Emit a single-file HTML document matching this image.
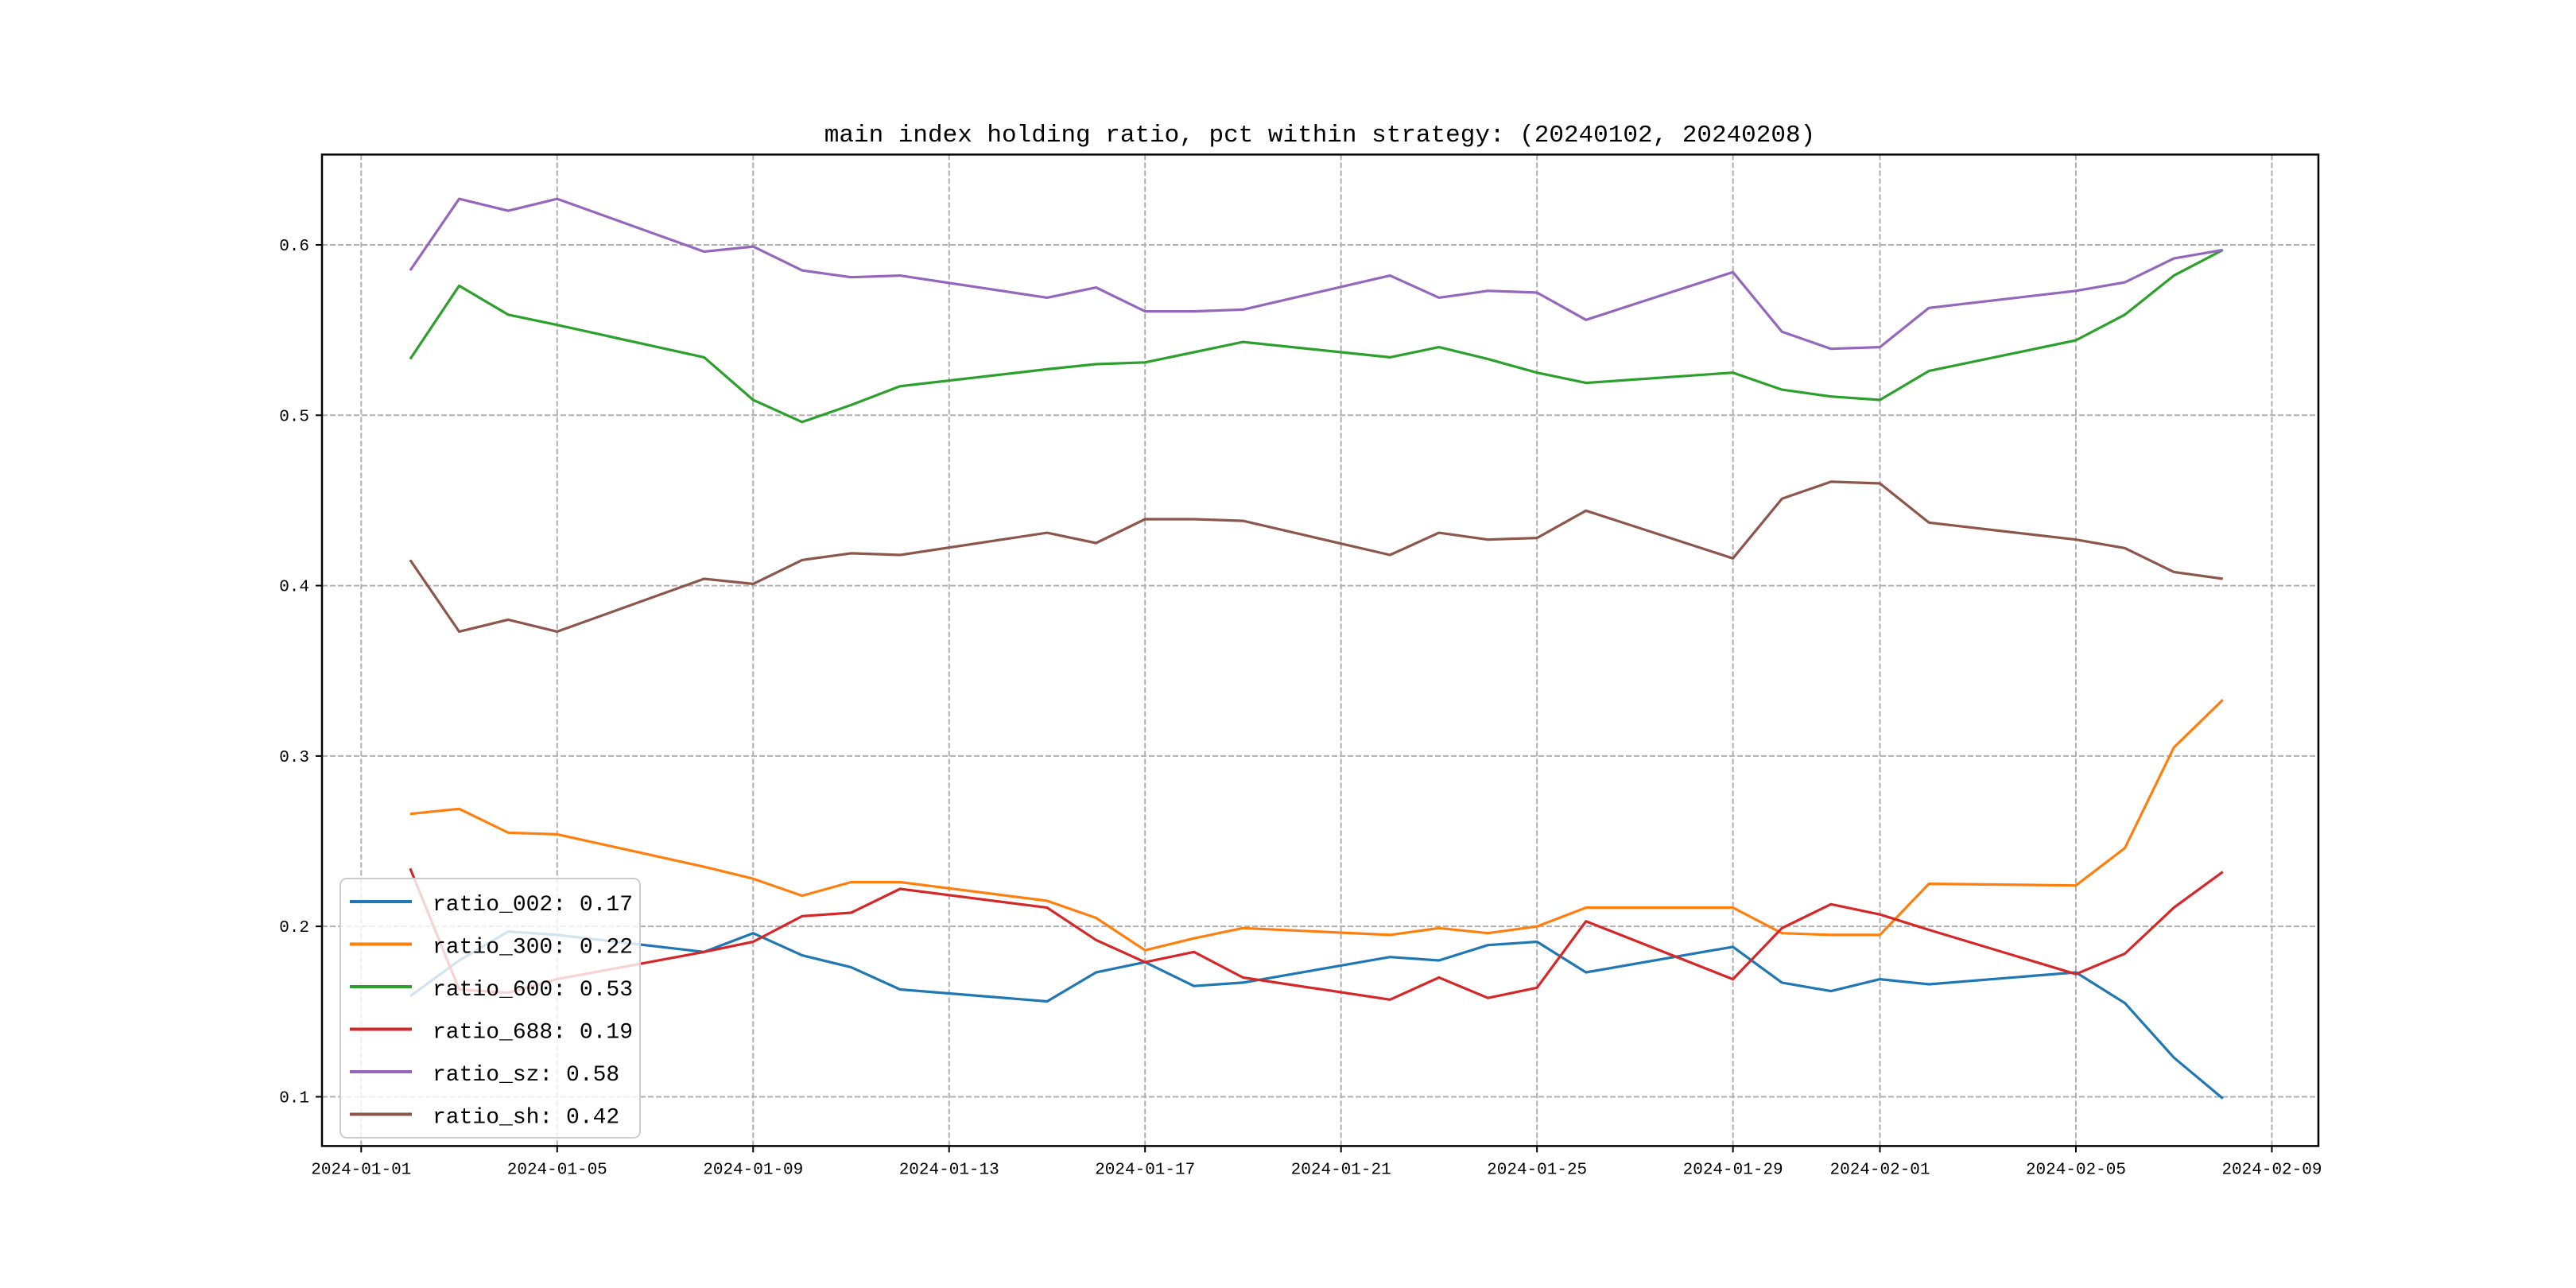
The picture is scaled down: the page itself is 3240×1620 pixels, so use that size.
<!DOCTYPE html>
<html><head><meta charset="utf-8"><style>
html,body{margin:0;padding:0;background:#fff}
svg{display:block}
text{font-family:"Liberation Mono","Noto Sans CJK SC",monospace;fill:#000}
</style></head><body>
<svg id="chart" width="3240" height="1620" viewBox="0 0 3240 1620" xmlns="http://www.w3.org/2000/svg">
<rect width="3240" height="1620" fill="#fff"/>
<text x="1660" y="178" font-size="31" text-anchor="middle">main index holding ratio, pct within strategy: (20240102, 20240208)</text>
<g id="grid"></g>
<g id="series"></g>
<rect x="405" y="194.4" width="2511" height="1247" fill="none" stroke="#000" stroke-width="2.5"/>
<g id="ticks"></g>
<g id="legend"></g>
</svg>
<script>
const dates = ["2024-01-02","2024-01-03","2024-01-04","2024-01-05","2024-01-08","2024-01-09","2024-01-10","2024-01-11","2024-01-12","2024-01-15","2024-01-16","2024-01-17","2024-01-18","2024-01-19","2024-01-22","2024-01-23","2024-01-24","2024-01-25","2024-01-26","2024-01-29","2024-01-30","2024-01-31","2024-02-01","2024-02-02","2024-02-05","2024-02-06","2024-02-07","2024-02-08"];
const ratio002 = [0.159,0.180,0.197,0.195,0.185,0.196,0.183,0.176,0.163,0.156,0.173,0.179,0.165,0.167,0.182,0.180,0.189,0.191,0.173,0.188,0.167,0.162,0.169,0.166,0.173,0.155,0.123,0.099];
const ratio300 = [0.266,0.269,0.255,0.254,0.235,0.228,0.218,0.226,0.226,0.215,0.205,0.186,0.193,0.199,0.195,0.199,0.196,0.200,0.211,0.211,0.196,0.195,0.195,0.225,0.224,0.246,0.305,0.333];
const ratio600 = [0.533,0.576,0.559,0.553,0.534,0.509,0.496,0.506,0.517,0.527,0.530,0.531,0.537,0.543,0.534,0.540,0.533,0.525,0.519,0.525,0.515,0.511,0.509,0.526,0.544,0.559,0.582,0.597];
const ratio688 = [0.234,0.163,0.161,0.169,0.185,0.191,0.206,0.208,0.222,0.211,0.192,0.179,0.185,0.170,0.157,0.170,0.158,0.164,0.203,0.169,0.199,0.213,0.207,0.198,0.172,0.184,0.211,0.232];
const ratioSz = [0.585,0.627,0.620,0.627,0.596,0.599,0.585,0.581,0.582,0.569,0.575,0.561,0.561,0.562,0.582,0.569,0.573,0.572,0.556,0.584,0.549,0.539,0.540,0.563,0.573,0.578,0.592,0.597];
const ratioSh = [0.415,0.373,0.380,0.373,0.404,0.401,0.415,0.419,0.418,0.431,0.425,0.439,0.439,0.438,0.418,0.431,0.427,0.428,0.444,0.416,0.451,0.461,0.460,0.437,0.427,0.422,0.408,0.404];
const seriesNames = ["ratio_002: 0.17","ratio_300: 0.22","ratio_600: 0.53","ratio_688: 0.19","ratio_sz: 0.58","ratio_sh: 0.42"];
const xTickLabels = ["2024-01-01","2024-01-05","2024-01-09","2024-01-13","2024-01-17","2024-01-21","2024-01-25","2024-01-29","2024-02-01","2024-02-05","2024-02-09"];
const yTickValues = [0.1,0.2,0.3,0.4,0.5,0.6];

const NS="http://www.w3.org/2000/svg";
const L=405,R=2916,T=194.4,B=1441.4;
const DAY=86400000;
const d0=Date.parse(dates[0]), dN=Date.parse(dates[dates.length-1]);
const xmin=d0-1.8*DAY, xmax=dN+1.95*DAY;
const ymin=0.0711, ymax=0.653;
function xs(s){return L+(Date.parse(s)-xmin)/(xmax-xmin)*(R-L);}
function ys(v){return B-(v-ymin)/(ymax-ymin)*(B-T);}
function mk(tag,attrs,parent){const e=document.createElementNS(NS,tag);for(const k in attrs)e.setAttribute(k,attrs[k]);parent.appendChild(e);return e;}
const grid=document.getElementById('grid'),ticks=document.getElementById('ticks'),ser=document.getElementById('series'),leg=document.getElementById('legend');
xTickLabels.forEach(lbl=>{
  const x=xs(lbl);
  const g=mk('line',{x1:x,x2:x,y1:T,y2:B,stroke:'#b0b0b0','stroke-width':2,'stroke-dasharray':'7,3'},grid);
  
  
  const t=mk('line',{x1:x,x2:x,y1:B,y2:B+8,stroke:'#000','stroke-width':2},ticks);
  
  
  const tx=mk('text',{x:x,y:B+35,'font-size':21,'text-anchor':'middle'},ticks);
  tx.textContent=lbl;
  
  
});
yTickValues.forEach(v=>{
  const y=ys(v);
  const g=mk('line',{x1:L,x2:R,y1:y,y2:y,stroke:'#b0b0b0','stroke-width':2,'stroke-dasharray':'7,3'},grid);
  
  
  const t=mk('line',{x1:L-8,x2:L,y1:y,y2:y,stroke:'#000','stroke-width':2},ticks);
  
  
  const tx=mk('text',{x:L-16,y:y+7,'font-size':21,'text-anchor':'end'},ticks);
  tx.textContent=v.toFixed(1);
  
  
});
const allSeries=[ratio002,ratio300,ratio600,ratio688,ratioSz,ratioSh];
const colors=['#1f77b4','#ff7f0e','#2ca02c','#d62728','#9467bd','#8c564b'];
const keys=['ratio-002','ratio-300','ratio-600','ratio-688','ratio-sz','ratio-sh'];
allSeries.forEach((vals,i)=>{
  const pts=vals.map((v,j)=>xs(dates[j]).toFixed(1)+','+ys(v).toFixed(1)).join(' ');
  const p=mk('polyline',{points:pts,fill:'none',stroke:colors[i],'stroke-width':3.2,'stroke-linejoin':'round'},ser);
  
  
});
const box=mk('rect',{x:428,y:1105,width:377,height:326,rx:8,fill:'#fff','fill-opacity':0.8,stroke:'#ccc','stroke-width':2},leg);


seriesNames.forEach((nm,i)=>{
  const y=1134+i*53.5;
  const ln=mk('line',{x1:440,x2:518,y1:y,y2:y,stroke:colors[i],'stroke-width':4},leg);
  
  
  const tx=mk('text',{x:544,y:y+11,'font-size':28},leg);
  tx.textContent=nm;
  
  
});
</script>
</body></html>
